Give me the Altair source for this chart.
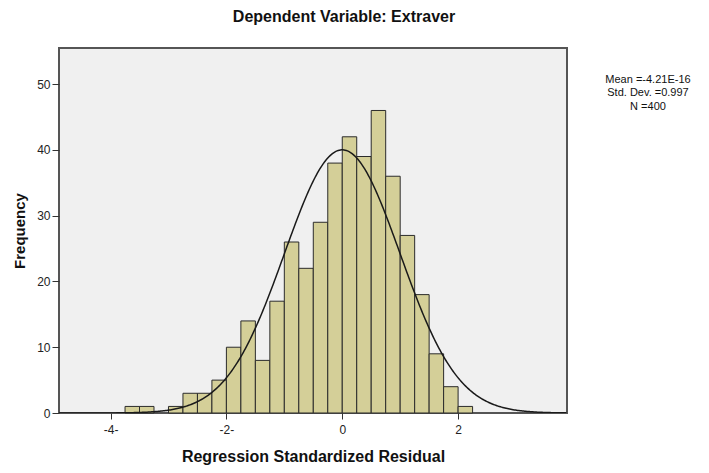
import altair as alt
import pandas as pd

# Histogram bins (lower edges) and their counts
bin_start = [-3.75, -3.5, -3.0, -2.75, -2.5, -2.25, -2.0, -1.75, -1.5, -1.25,
             -1.0, -0.75, -0.5, -0.25, 0.0, 0.25, 0.5, 0.75, 1.0, 1.25,
             1.5, 1.75, 2.0]
counts = [1, 1, 1, 3, 3, 5, 10, 14, 8, 17,
          26, 22, 29, 38, 42, 39, 46, 36, 27, 18,
          9, 4, 1]
bin_width = 0.25

# Summary statistics shown next to the chart
mean_val = -4.21e-16
sd_val = 0.997
n_val = 400
stats_lines = ["Mean =-4.21E-16", "Std. Dev. =0.997", "N =400"]

x_ticks = [-4, -2, 0, 2]
y_ticks = [0, 10, 20, 30, 40, 50]
x_domain = [-4.89, 3.88]
y_domain = [0, 55.5]

df = pd.DataFrame({
    "start": bin_start,
    "end": [s + bin_width for s in bin_start],
    "count": counts,
})

FONT = "Liberation Sans"

xscale = alt.Scale(domain=x_domain, nice=False, zero=False)
yscale = alt.Scale(domain=y_domain, nice=False)

bars = alt.Chart(df).mark_bar(
    fill="#D4CF98", stroke="#2b2b2b", strokeWidth=1, opacity=1
).encode(
    x=alt.X("start:Q", scale=xscale,
            axis=alt.Axis(values=x_ticks, title="Regression Standardized Residual",
                          labelExpr="datum.value < 0 ? datum.value + '-' : '' + datum.value",
                          grid=False, domain=False, tickSize=6, tickColor="#333",
                          labelColor="#222", labelFontSize=12, labelFont=FONT,
                          labelPadding=5, titleFont=FONT, titleFontSize=16,
                          titleFontWeight="bold", titleColor="#111", titlePadding=13)),
    x2="end:Q",
    y=alt.Y("count:Q", scale=yscale,
            axis=alt.Axis(values=y_ticks, title="Frequency", grid=False, domain=False,
                          tickSize=7, tickColor="#333", labelColor="#222",
                          labelFontSize=12, labelFont=FONT, labelPadding=2,
                          titleFont=FONT, titleFontSize=15, titleFontWeight="bold",
                          titleColor="#111", titlePadding=9)),
    y2=alt.datum(0),
)

curve = alt.Chart(alt.sequence(start=-4.89, stop=3.89, step=0.02, as_="x")).transform_calculate(
    freq=f"{n_val * bin_width} / ({sd_val} * sqrt(2 * PI)) * exp(-0.5 * pow((datum.x - ({mean_val})) / {sd_val}, 2))"
).mark_line(color="#1a1a1a", strokeWidth=1.5, clip=True).encode(
    x=alt.X("x:Q", scale=xscale),
    y=alt.Y("freq:Q", scale=yscale),
)

stats = alt.Chart(pd.DataFrame({"t": ["\n".join(stats_lines)]})).mark_text(
    lineBreak="\n", align="center", baseline="middle", font=FONT, fontSize=11,
    color="#111", lineHeight=13.3
).encode(
    text="t:N",
    x=alt.value(589),
    y=alt.value(32),
)

chart = alt.layer(bars, curve, stats).properties(
    width=508,
    height=365,
    background="white",
    title=alt.TitleParams("Dependent Variable: Extraver", font=FONT, fontSize=16,
                          fontWeight="bold", color="#111", frame="group",
                          anchor="middle", dx=31, offset=23),
    autosize=alt.AutoSizeParams(type="none"),
    padding={"left": 51, "top": 40, "right": 134, "bottom": 52},
).configure_view(
    fill="#F0F0F0", stroke="#555555", strokeWidth=2
)

chart.save("out.html", embed_options={"renderer": "svg", "actions": False})
